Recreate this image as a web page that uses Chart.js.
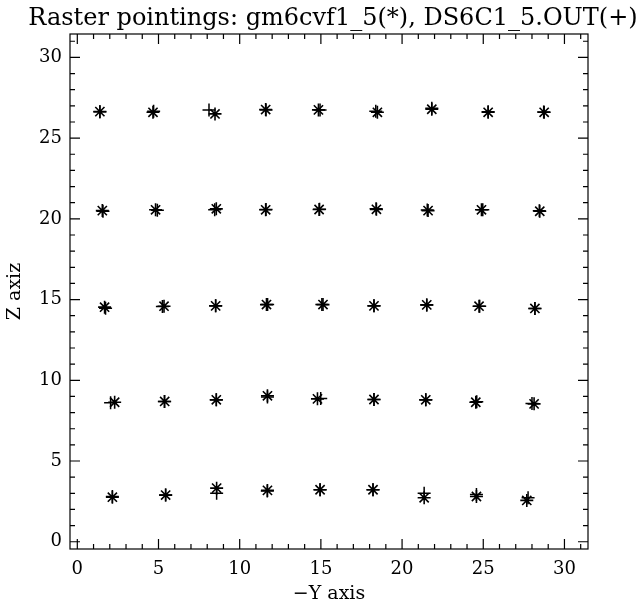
<!DOCTYPE html>
<html>
<head>
<meta charset="utf-8">
<script src="https://cdn.jsdelivr.net/npm/chart.js@4/dist/chart.umd.min.js"></script>
<style>
  html, body { margin: 0; padding: 0; background: #fff; }
  #wrap { width: 639px; height: 609px; }
</style>
</head>
<body>
<div id="wrap"><canvas id="rasterChart"></canvas></div>
<script>
// gm6cvf1_5 pointings (asterisks)
var starY = [1.39, 4.66, 8.48, 11.60, 14.85, 18.48, 21.83, 25.30, 28.75,
             1.54, 4.82, 8.56, 11.60, 14.89, 18.42, 21.60, 24.89, 28.48,
             1.68, 5.34, 8.52, 11.65, 15.13, 18.27, 21.52, 24.74, 28.18,
             2.30, 5.38, 8.56, 11.71, 14.79, 18.27, 21.46, 24.54, 28.13,
             2.16, 5.44, 8.58, 11.71, 14.95, 18.21, 21.36, 24.58, 27.68];
var starZ = [26.64, 26.60, 26.50, 26.77, 26.75, 26.60, 26.79, 26.60, 26.60,
             20.51, 20.56, 20.62, 20.56, 20.58, 20.59, 20.51, 20.56, 20.47,
             14.53, 14.59, 14.61, 14.69, 14.69, 14.61, 14.67, 14.59, 14.45,
             8.64, 8.69, 8.79, 9.04, 8.85, 8.81, 8.79, 8.64, 8.54,
             2.76, 2.89, 3.32, 3.18, 3.22, 3.22, 2.72, 2.80, 2.56];

// DS6C1_5.OUT pointings (plus signs)
var plusY = [1.39, 4.70, 8.11, 11.62, 14.95, 18.38, 21.83, 25.30, 28.72,
             1.58, 4.93, 8.46, 11.62, 14.92, 18.40, 21.55, 24.97, 28.45,
             1.74, 5.24, 8.52, 11.72, 15.06, 18.27, 21.52, 24.78, 28.18,
             2.05, 5.36, 8.56, 11.71, 14.99, 18.27, 21.46, 24.60, 28.00,
             2.16, 5.44, 8.58, 11.70, 14.95, 18.21, 21.36, 24.58, 27.76];
var plusZ = [26.64, 26.66, 26.75, 26.75, 26.75, 26.66, 26.85, 26.64, 26.62,
             20.47, 20.53, 20.56, 20.58, 20.60, 20.62, 20.55, 20.56, 20.50,
             14.46, 14.57, 14.61, 14.69, 14.69, 14.61, 14.67, 14.59, 14.45,
             8.61, 8.69, 8.79, 8.96, 8.87, 8.81, 8.79, 8.67, 8.57,
             2.80, 2.89, 3.01, 3.15, 3.22, 3.22, 3.01, 2.93, 2.72];

var xTicks = [0, 5, 10, 15, 20, 25, 30];
var yTicks = [0, 5, 10, 15, 20, 25, 30];
var axisMin = -0.45, axisMax = 31.45;
var plotTitle = 'Raster pointings: gm6cvf1_5(*), DS6C1_5.OUT(+)';

var serif = 'DejaVu Serif';

function toPoints(xs, ys) {
    return xs.map(function (v, i) { return { x: v, y: ys[i] }; });
}

// box around the plot with inward major/minor ticks on all four sides,
// plus the title line (wider than the plot, so drawn here and not clipped)
var frameTicks = {
    id: 'frameTicks',
    afterDatasetsDraw: function (chart) {
        var ctx = chart.ctx, a = chart.chartArea;
        var xs = chart.scales.x, ys = chart.scales.y;
        ctx.save();
        ctx.strokeStyle = '#000';
        ctx.lineWidth = 1.2;
        ctx.strokeRect(a.left, a.top, a.right - a.left, a.bottom - a.top);
        ctx.beginPath();
        for (var v = 0; v <= 31; v++) {
            var len = (v % 5 === 0) ? 10 : 5;
            var px = xs.getPixelForValue(v);
            ctx.moveTo(px, a.bottom); ctx.lineTo(px, a.bottom - len);
            ctx.moveTo(px, a.top); ctx.lineTo(px, a.top + len);
            var py = ys.getPixelForValue(v);
            ctx.moveTo(a.left, py); ctx.lineTo(a.left + len, py);
            ctx.moveTo(a.right, py); ctx.lineTo(a.right - len, py);
        }
        ctx.stroke();

        ctx.fillStyle = '#000';
        ctx.font = '24px "' + serif + '"';
        ctx.textAlign = 'center';
        ctx.textBaseline = 'alphabetic';
        ctx.fillText(plotTitle, (a.left + a.right) / 2 + 4, 25);
        ctx.restore();
    }
};

new Chart(document.getElementById('rasterChart'), {
    type: 'scatter',
    data: {
        datasets: [{
            label: 'gm6cvf1_5',
            data: toPoints(starY, starZ),
            pointStyle: 'star',
            pointRadius: 6.5,
            pointHoverRadius: 6.5,
            borderColor: '#000',
            backgroundColor: '#000',
            borderWidth: 1.6
        }, {
            label: 'DS6C1_5.OUT',
            data: toPoints(plusY, plusZ),
            pointStyle: 'cross',
            pointRadius: 6.5,
            pointHoverRadius: 6.5,
            borderColor: '#000',
            backgroundColor: '#000',
            borderWidth: 1.5
        }]
    },
    options: {
        responsive: true,
        maintainAspectRatio: false,
        animation: false,
        events: [],
        layout: { padding: { left: 0, right: 51, top: 34, bottom: 0 } },
        plugins: {
            legend: { display: false },
            tooltip: { enabled: false },
            title: { display: false }
        },
        scales: {
            x: {
                type: 'linear',
                min: axisMin,
                max: axisMax,
                afterBuildTicks: function (s) { s.ticks = xTicks.map(function (v) { return { value: v }; }); },
                afterFit: function (s) { s.height = 60; },
                grid: { display: false, drawTicks: false },
                border: { display: false },
                ticks: { color: '#000', padding: 10, maxRotation: 0, font: { family: serif, size: 18 } },
                title: {
                    display: true,
                    text: '\u2212Y axis',
                    color: '#000',
                    font: { family: serif, size: 19 },
                    padding: { top: 0, bottom: 4 }
                }
            },
            y: {
                type: 'linear',
                min: axisMin,
                max: axisMax,
                afterBuildTicks: function (s) { s.ticks = yTicks.map(function (v) { return { value: v }; }); },
                afterFit: function (s) { s.width = 70; },
                grid: { display: false, drawTicks: false },
                border: { display: false },
                ticks: { color: '#000', padding: 8, font: { family: serif, size: 18 } },
                title: {
                    display: true,
                    text: 'Z axiz',
                    color: '#000',
                    font: { family: serif, size: 19 },
                    padding: { top: 4, bottom: 0 }
                }
            }
        }
    },
    plugins: [frameTicks]
});
</script>
</body>
</html>
